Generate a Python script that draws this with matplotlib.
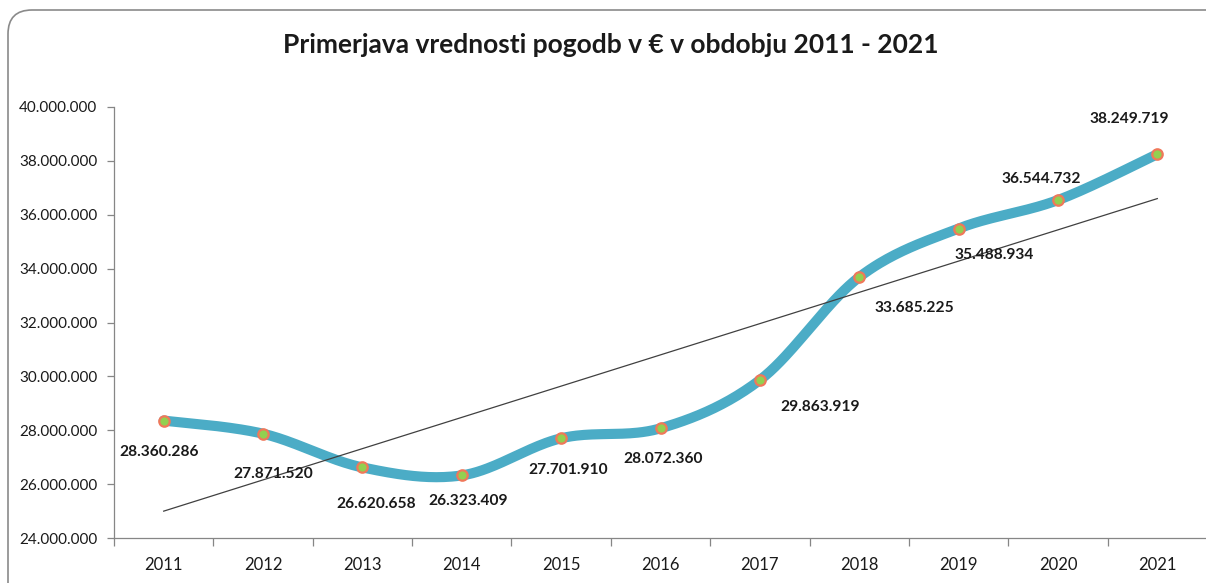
import numpy as np
import matplotlib
matplotlib.use("Agg")
import matplotlib.pyplot as plt
from matplotlib.patches import FancyBboxPatch

plt.rcParams['font.family'] = ['Lato', 'DejaVu Sans']

# data
years = ["2011", "2012", "2013", "2014", "2015", "2016", "2017", "2018", "2019", "2020", "2021"]
values = [28360286, 27871520, 26620658, 26323409, 27701910, 28072360,
          29863919, 33685225, 35488934, 36544732, 38249719]
# label offsets in pixels (dx, dy) relative to the point
label_off = [(-5, -31), (10, -40), (14, -37), (6, -26), (7, -32), (3, -31),
             (60, -27), (55, -31), (36, -26), (-17, 21), (-28, 35)]


def fmt(v):
    return f"{v:,.0f}".replace(",", ".")


def smooth(xs, ys, n=40):
    # Excel-like smoothed line (Catmull-Rom bezier segments)
    xs = np.asarray(xs, float)
    ys = np.asarray(ys, float)
    px = np.concatenate([[xs[0]], xs, [xs[-1]]])
    py = np.concatenate([[ys[0]], ys, [ys[-1]]])
    ox, oy = [], []
    t = np.linspace(0, 1, n)
    for i in range(1, len(px) - 2):
        p0 = np.array([px[i], py[i]])
        p3 = np.array([px[i + 1], py[i + 1]])
        c1 = p0 + (p3 - np.array([px[i - 1], py[i - 1]])) / 6
        c2 = p3 - (np.array([px[i + 2], py[i + 2]]) - p0) / 6
        for tt in t:
            b = ((1 - tt) ** 3) * p0 + 3 * ((1 - tt) ** 2) * tt * c1 + 3 * (1 - tt) * tt ** 2 * c2 + tt ** 3 * p3
            ox.append(b[0])
            oy.append(b[1])
    return np.array(ox), np.array(oy)


x = np.arange(len(years))

fig = plt.figure(figsize=(12.06, 5.83), dpi=100)

# rounded chart frame (inches), runs off the right and bottom edges
frame = FancyBboxPatch((0.08, -1.0), 13.0, 5.73 + 1.0,
                       boxstyle="round,pad=0,rounding_size=0.24",
                       transform=fig.dpi_scale_trans, fill=False,
                       edgecolor="#8a8a8a", linewidth=1.2)
fig.patches.append(frame)

ax = fig.add_axes([114 / 1206, 1 - 538 / 583, 1093 / 1206, 431 / 583])

sx, sy = smooth(x, values)
ax.plot(sx, sy, color="#4BACC6", linewidth=7.3, solid_capstyle="round", zorder=2)

# linear trend
k, b = np.polyfit(x, values, 1)
ax.plot([x[0], x[-1]], [k * x[0] + b, k * x[-1] + b], color="#404040", linewidth=0.9, zorder=3)

ax.plot(x, values, linestyle="none", marker="o", markersize=7.5,
        markerfacecolor="#92D050", markeredgecolor="#F0785A", markeredgewidth=1.6, zorder=4)

for xi, v, (dx, dy) in zip(x, values, label_off):
    ax.annotate(fmt(v), (xi, v), xytext=(dx * 0.72, dy * 0.72), textcoords="offset points",
                ha="center", va="center", fontsize=11.2, fontweight="bold", color="#1a1a1a", zorder=5)

ax.set_xlim(-0.5, len(years) - 0.5)
ax.set_ylim(24000000, 40000000)
ax.set_yticks(np.arange(24000000, 40000001, 2000000))
ax.set_yticklabels([fmt(v) for v in np.arange(24000000, 40000001, 2000000)])
ax.set_xticks(x)
ax.set_xticklabels(years)
ax.set_xticks(np.arange(-0.5, len(years), 1), minor=True)

ax.tick_params(axis="x", which="major", length=0, pad=14, labelsize=12, colors="#1a1a1a")
ax.tick_params(axis="x", which="minor", length=6, width=0.9, color="#868686", direction="out")
ax.tick_params(axis="y", length=5, width=0.9, color="#868686", labelsize=11, labelcolor="#1a1a1a", pad=7)

for s in ["top", "right"]:
    ax.spines[s].set_visible(False)
for s in ["left", "bottom"]:
    ax.spines[s].set_color("#868686")
    ax.spines[s].set_linewidth(0.9)

fig.text(611 / 1206, 1 - 45 / 583, "Primerjava vrednosti pogodb v € v obdobju 2011 - 2021",
         ha="center", va="center", fontsize=19, fontweight="bold", color="#1a1a1a")

fig.savefig("out.png", dpi=100)
